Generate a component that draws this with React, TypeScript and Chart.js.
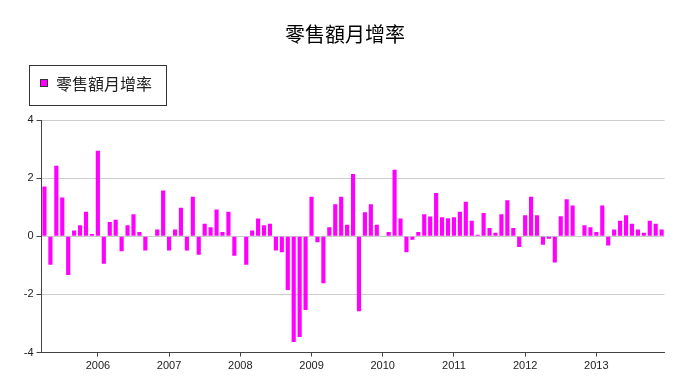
import React, { useEffect, useRef } from 'react';
import { Chart, registerables } from 'chart.js';

Chart.register(...registerables);

const TITLE = '零售額月增率';
const SERIES_NAME = '零售額月增率';
const BAR_COLOR = '#ff00ff';

// Monthly values, Apr 2005 – Dec 2013
const v2005 = [1.71, -0.98, 2.43, 1.33, -1.33, 0.2, 0.38, 0.84, 0.08]; // Apr–Dec
const v2006 = [2.94, -0.95, 0.49, 0.57, -0.52, 0.38, 0.76, 0.15, -0.49, 0, 0.23, 1.57];
const v2007 = [-0.49, 0.23, 0.98, -0.49, 1.36, -0.64, 0.43, 0.31, 0.92, 0.15, 0.84, -0.67];
const v2008 = [0, -0.98, 0.2, 0.61, 0.38, 0.43, -0.49, -0.55, -1.85, -3.64, -3.47, -2.54];
const v2009 = [1.36, -0.21, -1.62, 0.31, 1.1, 1.36, 0.4, 2.14, -2.58, 0.83, 1.1, 0.4];
const v2010 = [0, 0.15, 2.29, 0.61, -0.55, -0.12, 0.15, 0.76, 0.68, 1.49, 0.65, 0.62];
const v2011 = [0.65, 0.84, 1.19, 0.53, 0.05, 0.8, 0.28, 0.12, 0.76, 1.24, 0.28, -0.37];
const v2012 = [0.72, 1.36, 0.72, -0.29, -0.09, -0.9, 0.69, 1.27, 1.06, 0, 0.38, 0.31];
const v2013 = [0.15, 1.06, -0.32, 0.23, 0.53, 0.72, 0.43, 0.23, 0.12, 0.53, 0.43, 0.23];

const years = [2005, 2006, 2007, 2008, 2009, 2010, 2011, 2012, 2013];
const yearValues = [v2005, v2006, v2007, v2008, v2009, v2010, v2011, v2012, v2013];
const Y_MIN = -4;
const Y_MAX = 4;
const Y_STEP = 2;

const labels: string[] = [];
const values: number[] = [];
years.forEach((y, yi) => {
  const vals = yearValues[yi];
  const startMonth = 13 - vals.length;
  vals.forEach((v, i) => {
    const m = startMonth + i;
    labels.push(`${y}-${m < 10 ? '0' + m : m}`);
    values.push(v);
  });
});

const headerPlugin = {
  id: 'headerPlugin',
  afterDraw(chart: any) {
    const ctx = chart.ctx as CanvasRenderingContext2D;
    ctx.save();
    ctx.fillStyle = '#000';
    ctx.font = '20px "Noto Sans CJK TC"';
    ctx.textAlign = 'center';
    ctx.textBaseline = 'middle';
    ctx.fillText(TITLE, 345, 34);

    ctx.strokeStyle = '#333';
    ctx.lineWidth = 1;
    ctx.strokeRect(29.5, 65.5, 137, 40);
    ctx.fillStyle = BAR_COLOR;
    ctx.fillRect(41, 80, 6, 6);
    ctx.strokeStyle = '#333';
    ctx.strokeRect(40.5, 79.5, 7, 7);
    ctx.fillStyle = '#222';
    ctx.font = '16px "Noto Sans CJK TC"';
    ctx.textAlign = 'left';
    ctx.textBaseline = 'middle';
    ctx.fillText(SERIES_NAME, 56, 84);
    ctx.restore();
  },
};

export default function App() {
  const ref = useRef<HTMLCanvasElement | null>(null);
  useEffect(() => {
    if (!ref.current) return;
    const isJan = (i: number) => labels[i] && labels[i].endsWith('-01');
    const chart = new Chart(ref.current, {
      type: 'bar',
      data: {
        labels,
        datasets: [
          {
            label: SERIES_NAME,
            data: values,
            backgroundColor: BAR_COLOR,
            borderWidth: 0,
            barPercentage: 0.7,
            categoryPercentage: 1,
          },
        ],
      },
      options: {
        responsive: false,
        animation: false,
        layout: { padding: { top: 120, right: 18.4, bottom: 0, left: 0 } },
        plugins: {
          legend: { display: false },
          title: { display: false },
          tooltip: { enabled: false },
        },
        scales: {
          x: {
            type: 'category',
            offset: true,
            border: { display: true, color: '#444', width: 1 },
            grid: {
              display: true,
              offset: false,
              drawOnChartArea: false,
              drawTicks: true,
              tickLength: 4,
              tickColor: (c: any) => (isJan(c.index) ? '#444' : 'rgba(0,0,0,0)'),
            },
            ticks: {
              autoSkip: false,
              maxRotation: 0,
              minRotation: 0,
              padding: 3,
              color: '#222',
              font: { family: '"Liberation Sans", Arial, sans-serif', size: 11 },
              callback: (_v: any, i: number) => (isJan(i) ? labels[i].slice(0, 4) : ''),
            },
            afterFit: (s: any) => {
              s.height = 29.5;
            },
          },
          y: {
            min: Y_MIN,
            max: Y_MAX,
            border: { display: true, color: '#444', width: 1 },
            grid: {
              color: '#cccccc',
              drawTicks: true,
              tickLength: 5,
              tickColor: '#444',
            },
            ticks: {
              stepSize: Y_STEP,
              padding: 3,
              color: '#222',
              font: { family: '"Liberation Sans", Arial, sans-serif', size: 11 },
            },
            afterFit: (s: any) => {
              s.width = 41.5;
            },
          },
        },
      },
      plugins: [headerPlugin],
    });
    return () => chart.destroy();
  }, []);
  return (
    <div style={{ position: 'absolute', left: 0, top: 0, width: 683, height: 382 }}>
      <canvas ref={ref} width={683} height={382} style={{ width: 683, height: 382 }} />
    </div>
  );
}
